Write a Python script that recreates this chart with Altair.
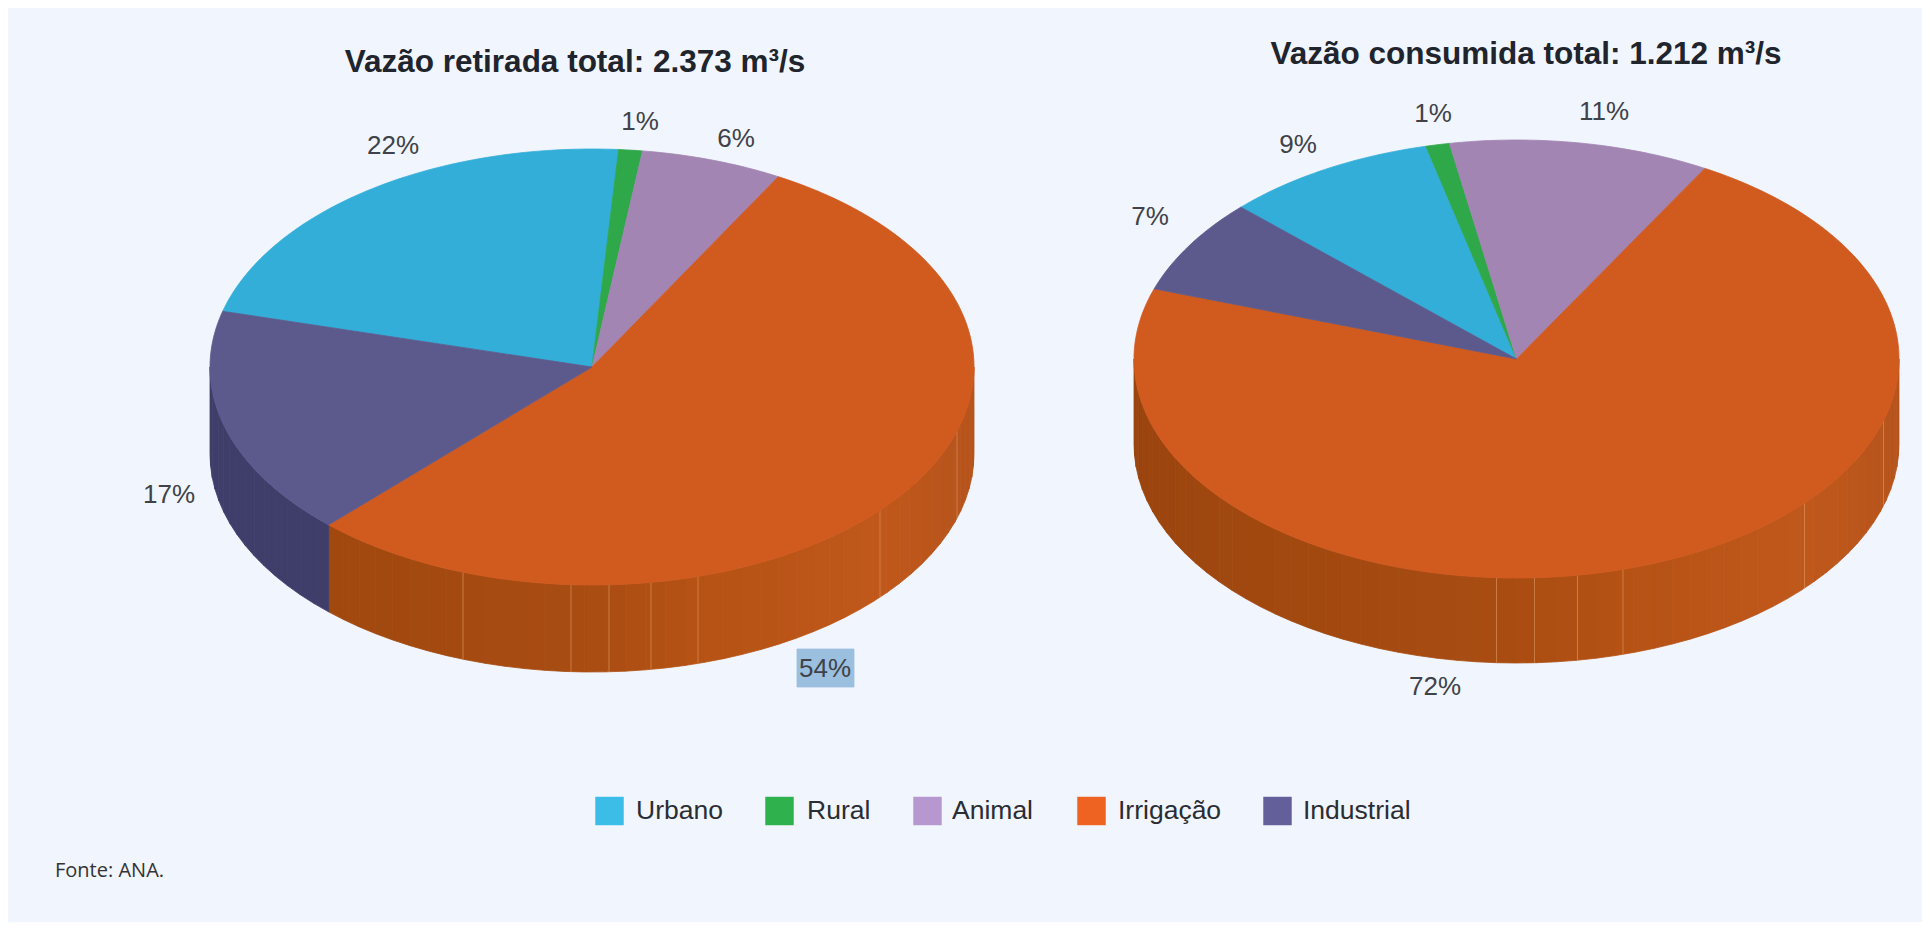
import math
import altair as alt
import pandas as pd

# ---- values
categories = ["Urbano", "Rural", "Animal", "Irrigação", "Industrial"]
retirada = [22, 1, 6, 54, 17]
consumida = [9, 1, 11, 72, 7]
title_retirada = "Vazão retirada total: 2.373 m³/s"
title_consumida = "Vazão consumida total: 1.212 m³/s"
source_note = "Fonte: ANA."

top_colors = ["#33aed8", "#2fa84a", "#a285b3", "#d15b1f", "#5c5a8d"]
swatch_colors = ["#3bbde8", "#2fb14d", "#b797cf", "#ee6322", "#625f9a"]

# layout (page pixels)
pie_retirada = dict(cx=592, cy=367, rx=382, ry=218, depth=87, start=-75.2)
pie_consumida = dict(cx=1516.5, cy=359, rx=382.5, ry=219, depth=85, start=-46.1)
seams_retirada = [-129, -21, 17, 59, 106, 288, 365]
seams_consumida = [-20, 18, 61, 106.5, 288, 367]
shade_stops = [(-382, (0x9b, 0x44, 0x0e)), (-280, (0xa0, 0x48, 0x0f)), (-20, (0xa8, 0x4c, 0x12)),
               (106, (0xb5, 0x52, 0x14)), (288, (0xc0, 0x58, 0x1b)), (382, (0xb6, 0x54, 0x1c))]

labels_retirada = [("22%", 393, 146), ("1%", 640, 122), ("6%", 736, 139), ("54%", 825, 669), ("17%", 169, 495)]
labels_consumida = [("9%", 1298, 145), ("1%", 1433, 114), ("11%", 1604, 112), ("72%", 1435, 687), ("7%", 1150, 217)]
legend_swatch_x = [609.5, 779.5, 927.5, 1091.5, 1277.5]
legend_text_x = [636, 807, 952, 1118, 1303]


def pt(p, deg, lower=False):
    a = math.radians(deg)
    return [p["cx"] + p["rx"] * math.sin(a), p["cy"] - p["ry"] * math.cos(a) + (p["depth"] if lower else 0)]


def feature(coords, fill, kind="Polygon"):
    geom = [coords] if kind == "Polygon" else coords
    return {"type": "Feature", "properties": {"fill": fill}, "geometry": {"type": kind, "coordinates": geom}}


def arc_angles(a, b, step=1.0):
    n = max(2, int(abs(b - a) / step))
    return [a + (b - a) * i / n for i in range(n + 1)]


def shade(dx):
    for (x0, c0), (x1, c1) in zip(shade_stops, shade_stops[1:]):
        if dx <= x1:
            t = max(0, (dx - x0) / (x1 - x0))
            return "#%02x%02x%02x" % tuple(round(u + (v - u) * t) for u, v in zip(c0, c1))
    return "#%02x%02x%02x" % shade_stops[-1][1]


def pie_features(values, p, seams):
    tops, walls, lines = [], [], []
    ang = p["start"]
    for cat, val, col in zip(categories, values, top_colors):
        end = ang + val * 3.6
        ring = [pt(p, d) for d in arc_angles(ang, end)]
        tops.append(feature([[p["cx"], p["cy"]]] + ring + [[p["cx"], p["cy"]]], col))
        # the visible wall is the front half of the rim, cut into flat facets
        lo, hi = max(ang, 90), min(end, 270)
        if lo < hi:
            grid = arc_angles(lo, hi, 3.0)
            for d0, d1 in zip(grid, grid[1:]):
                dx = p["rx"] * math.sin(math.radians((d0 + d1) / 2))
                fill = "#3f3e6a" if cat == "Industrial" else shade(dx)
                quad = [pt(p, d0), pt(p, d1), pt(p, d1, True), pt(p, d0, True)]
                walls.append(feature(quad + [quad[0]], fill))
        ang = end
    for s in seams:
        y = math.sqrt(max(0, 1 - (s / p["rx"]) ** 2)) * p["ry"] + p["cy"]
        lines.append(feature([[p["cx"] + s, y], [p["cx"] + s, y + p["depth"]]], "#e09a66", "LineString"))
    return tops, walls, lines


t1, w1, l1 = pie_features(retirada, pie_retirada, seams_retirada)
t2, w2, l2 = pie_features(consumida, pie_consumida, seams_consumida)


def shapes(features):
    return (
        alt.Chart(alt.Data(values=features))
        .mark_geoshape(strokeWidth=0.8)
        .encode(
            fill=alt.Fill("properties.fill:N", scale=None),
            stroke=alt.Stroke("properties.fill:N", scale=None),
        )
    )


seam_layer = (
    alt.Chart(alt.Data(values=l1 + l2))
    .mark_geoshape(filled=False, strokeWidth=1, opacity=0.6)
    .encode(stroke=alt.Stroke("properties.fill:N", scale=None))
)

highlight = shapes([feature([[797, 649], [854, 649], [854, 687], [797, 687], [797, 649]], "#9bbfdf")])

pct_df = pd.DataFrame(labels_retirada + labels_consumida, columns=["t", "x", "y"])
pct_layer = (
    alt.Chart(pct_df)
    .mark_text(font="Liberation Sans", fontSize=26, color="#3f4248", align="center", baseline="middle")
    .encode(longitude="x:Q", latitude="y:Q", text="t:N")
)

title_df = pd.DataFrame({"t": [title_retirada, title_consumida], "x": [575, 1526], "y": [63, 55]})
title_layer = (
    alt.Chart(title_df)
    .mark_text(font="Liberation Sans", fontSize=31.5, fontWeight="bold", color="#20242c", align="center", baseline="middle")
    .encode(longitude="x:Q", latitude="y:Q", text="t:N")
)

leg_df = pd.DataFrame({"cat": categories, "sx": legend_swatch_x, "tx": legend_text_x, "c": swatch_colors, "y": [811] * 5})
swatches = (
    alt.Chart(leg_df)
    .mark_square(size=810, opacity=1, filled=True)
    .encode(longitude="sx:Q", latitude="y:Q", fill=alt.Fill("c:N", scale=None))
)
leg_text = (
    alt.Chart(leg_df)
    .mark_text(font="Liberation Sans", fontSize=26.5, color="#2a2d33", align="left", baseline="middle")
    .encode(longitude="tx:Q", latitude="y:Q", text="cat:N")
)

note = (
    alt.Chart(pd.DataFrame({"t": [source_note], "x": [55], "y": [871]}))
    .mark_text(font="Open Sans", fontSize=20, color="#333333", align="left", baseline="middle")
    .encode(longitude="x:Q", latitude="y:Q", text="t:N")
)

chart = (
    alt.layer(
        shapes(w1 + w2), seam_layer, shapes(t1 + t2), highlight,
        pct_layer, title_layer, swatches, leg_text, note,
    )
    .project(type="identity", scale=1, translate=[-8, -8])
    .properties(width=1914, height=914, background="#f1f5fd", padding=0, autosize=alt.AutoSizeParams(type="none"))
    .configure_view(stroke=None)
)

chart.save("out.html", embed_options={"renderer": "svg", "actions": False})
